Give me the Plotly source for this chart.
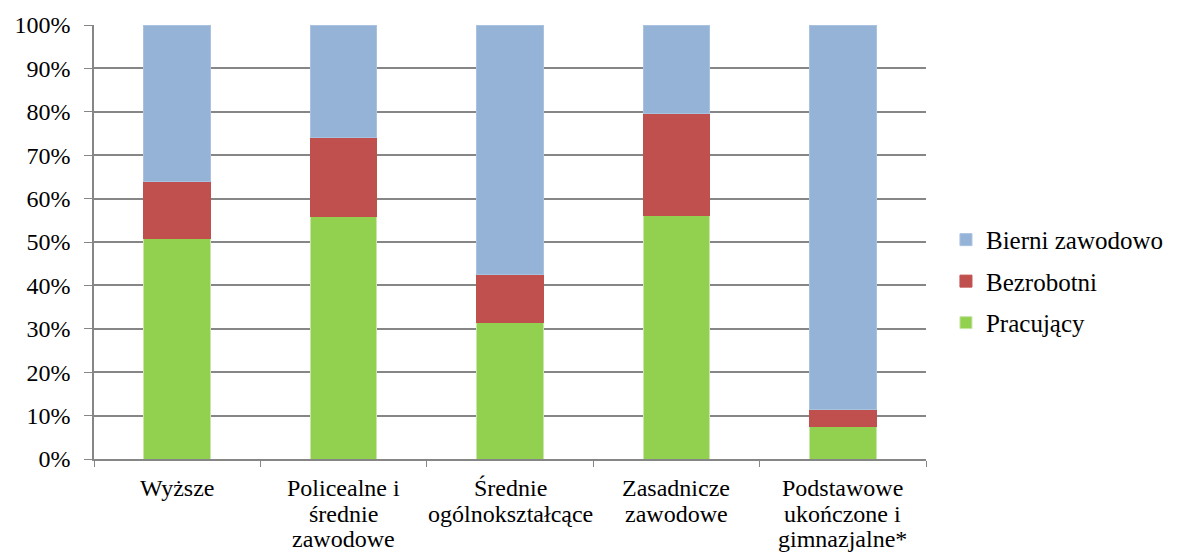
import plotly.graph_objects as go

categories = ["Wyższe", "Policealne i średnie zawodowe", "Średnie ogólnokształcące",
              "Zasadnicze zawodowe", "Podstawowe ukończone i gimnazjalne*"]
tick_lines = [["Wyższe"], ["Policealne i", "średnie", "zawodowe"], ["Średnie", "ogólnokształcące"],
              ["Zasadnicze", "zawodowe"], ["Podstawowe", "ukończone i", "gimnazjalne*"]]
pracujacy = [50.7, 55.8, 31.4, 56.0, 7.4]
bezrobotni = [13.3, 18.2, 11.1, 23.5, 4.0]
bierni = [36.0, 26.0, 57.5, 20.5, 88.6]

series = [
    ("Pracujący", pracujacy, "#92D050", "#C9E5A8", 3),
    ("Bezrobotni", bezrobotni, "#C0504D", "#C0504D", 2),
    ("Bierni zawodowo", bierni, "#95B3D7", "#A9C2DF", 1),
]

fig = go.Figure()
for name, vals, col, edge, rank in series:
    fig.add_trace(go.Bar(x=categories, y=vals, name=name, marker_color=col,
                         legendgroup=name, legendrank=rank,
                         marker_line=dict(color=edge, width=1)))

font = "Times New Roman"
LINE = 25.5
for cat, lines in zip(categories, tick_lines):
    for i, ln in enumerate(lines):
        fig.add_annotation(x=cat, xref="x", y=0, yref="paper", yanchor="top",
                           text=ln, showarrow=False, yshift=-14 - LINE * i,
                           font=dict(family=font, size=24, color="black"))

fig.update_layout(
    barmode="stack",
    bargap=0.6,
    width=1177, height=555,
    margin=dict(l=94, r=251, t=25, b=96),
    plot_bgcolor="white", paper_bgcolor="white",
    font=dict(family=font, size=20, color="black"),
    legend=dict(xref="container", yref="container", x=0.8037, y=0.493,
                xanchor="left", yanchor="middle",
                traceorder="grouped", font=dict(family=font, size=25),
                itemwidth=30, tracegroupgap=6),
    showlegend=True,
)
fig.update_yaxes(range=[0, 100], dtick=10, ticksuffix="%", showgrid=True,
                 gridcolor="#868686", gridwidth=1.5, showline=True, linecolor="#868686",
                 linewidth=1.5, ticks="outside", ticklen=8, tickcolor="#868686",
                 ticklabelstandoff=9,
                 tickfont=dict(family=font, size=24), zeroline=False, automargin=False)
fig.update_xaxes(showline=True, linecolor="#868686", linewidth=1.5, ticks="outside",
                 ticklen=6, tickcolor="#868686", tickson="boundaries",
                 showticklabels=False, automargin=False)
fig.write_html("out.html", config={"displayModeBar": False},
               post_script="document.body.style.margin='0';")
